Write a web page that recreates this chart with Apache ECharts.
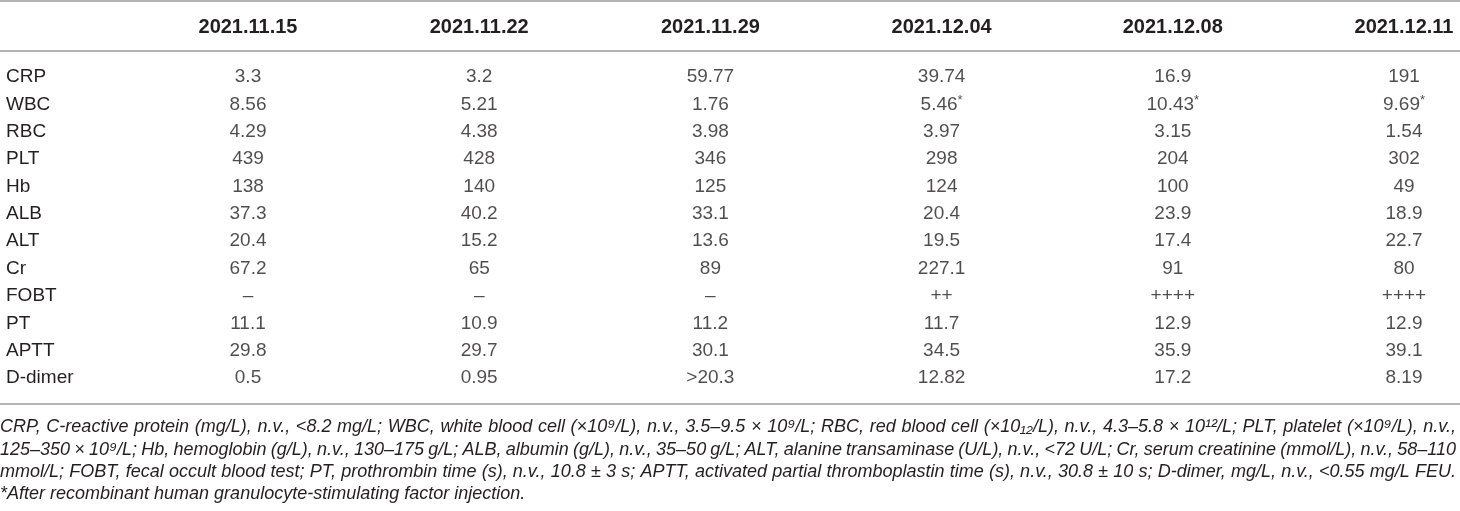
<!DOCTYPE html>
<html>
<head>
<meta charset="utf-8" />
<title>Laboratory results</title>
<script src="https://cdn.jsdelivr.net/npm/echarts@6/dist/echarts.min.js"></script>
<style>
  html, body { margin: 0; padding: 0; background: #fff; }
  #main { width: 1460px; height: 511px; }
</style>
</head>
<body>
<div id="main"></div>
<script type="text/javascript">
  // column headers (dates) and row names
  var dates = ['2021.11.15', '2021.11.22', '2021.11.29', '2021.12.04', '2021.12.08', '2021.12.11'];
  var items = ['CRP', 'WBC', 'RBC', 'PLT', 'Hb', 'ALB', 'ALT', 'Cr', 'FOBT', 'PT', 'APTT', 'D-dimer'];

  // one array per date, same order as items
  var v20211115 = ['3.3', '8.56', '4.29', '439', '138', '37.3', '20.4', '67.2', '–', '11.1', '29.8', '0.5'];
  var v20211122 = ['3.2', '5.21', '4.38', '428', '140', '40.2', '15.2', '65', '–', '10.9', '29.7', '0.95'];
  var v20211129 = ['59.77', '1.76', '3.98', '346', '125', '33.1', '13.6', '89', '–', '11.2', '30.1', '>20.3'];
  var v20211204 = ['39.74', '5.46*', '3.97', '298', '124', '20.4', '19.5', '227.1', '++', '11.7', '34.5', '12.82'];
  var v20211208 = ['16.9', '10.43*', '3.15', '204', '100', '23.9', '17.4', '91', '++++', '12.9', '35.9', '17.2'];
  var v20211211 = ['191', '9.69*', '1.54', '302', '49', '18.9', '22.7', '80', '++++', '12.9', '39.1', '8.19'];
  var columns = [v20211115, v20211122, v20211129, v20211204, v20211208, v20211211];

  // footnote, one entry per printed line
  var notes = [
    'CRP, C-reactive protein (mg/L), n.v., <8.2 mg/L; WBC, white blood cell (×10⁹/L), n.v., 3.5–9.5 × 10⁹/L; RBC, red blood cell (×10₁₂/L), n.v., 4.3–5.8 × 10¹²/L; PLT, platelet (×10⁹/L), n.v.,',
    '125–350 × 10⁹/L; Hb, hemoglobin (g/L), n.v., 130–175 g/L; ALB, albumin (g/L), n.v., 35–50 g/L; ALT, alanine transaminase (U/L), n.v., <72 U/L; Cr, serum creatinine (mmol/L), n.v., 58–110',
    'mmol/L; FOBT, fecal occult blood test; PT, prothrombin time (s), n.v., 10.8 ± 3 s; APTT, activated partial thromboplastin time (s), n.v., 30.8 ± 10 s; D-dimer, mg/L, n.v., <0.55 mg/L FEU.',
    '*After recombinant human granulocyte-stimulating factor injection.'
  ];

  var textColor = '#231f20';
  var ruleColor = '#b3b3b3';
  var fontFamily = '"Liberation Sans", Arial, sans-serif';

  var myChart = echarts.init(document.getElementById('main'));

  // justified footnote lines: every word is its own text, spread to the full width
  var noteSize = 18;
  var noteWidth = 1456;
  var ctx = document.createElement('canvas').getContext('2d');
  ctx.font = 'italic ' + noteSize + 'px ' + fontFamily;
  var noteY = [427, 450, 472, 494];
  var graphics = [];
  notes.forEach(function (line, n) {
    var words = line.split(' ');
    var widths = words.map(function (w) { return ctx.measureText(w).width; });
    var total = widths.reduce(function (a, b) { return a + b; }, 0);
    var justify = n < notes.length - 1;
    var gap = justify ? (noteWidth - total) / (words.length - 1) : ctx.measureText(' ').width;
    var x = 0;
    words.forEach(function (w, k) {
      graphics.push({
        type: 'text', x: x, y: noteY[n], silent: true,
        style: {
          text: w, fill: textColor, fontStyle: 'italic', fontSize: noteSize,
          fontFamily: fontFamily, verticalAlign: 'middle', align: 'left'
        }
      });
      x += widths[k] + gap;
    });
  });

  // table rules
  [1, 51, 404].forEach(function (y) {
    graphics.push({
      type: 'line', silent: true,
      shape: { x1: 0, y1: y, x2: 1460, y2: y },
      style: { stroke: ruleColor, lineWidth: 2 }
    });
  });

  myChart.setOption({
    animation: false,
    grid: { left: 248, right: 56, top: 77, bottom: 133, outerBoundsMode: 'none' },
    xAxis: {
      type: 'category', position: 'top', data: dates, boundaryGap: false,
      axisLine: { show: false }, axisTick: { show: false }, splitLine: { show: false },
      axisLabel: {
        interval: 0, margin: 50, verticalAlign: 'middle',
        color: textColor, fontWeight: 'bold', fontSize: 20, fontFamily: fontFamily
      }
    },
    yAxis: {
      type: 'category', data: items, inverse: true, boundaryGap: false,
      axisLine: { show: false }, axisTick: { show: false }, splitLine: { show: false },
      axisLabel: {
        interval: 0, margin: 242, align: 'left',
        color: textColor, fontSize: 19, fontFamily: fontFamily
      }
    },
    series: columns.map(function (col, i) {
      return {
        type: 'scatter', name: dates[i], symbolSize: 1,
        itemStyle: { color: 'rgba(0,0,0,0)' },
        data: col.map(function (txt, j) { return [dates[i], items[j], txt]; }),
        label: {
          show: true, position: 'inside', color: textColor,
          fontSize: 19, fontFamily: fontFamily,
          formatter: function (p) {
            var t = p.value[2];
            return t.charAt(t.length - 1) === '*' ? t.slice(0, -1) + '{s|*}' : t;
          },
          rich: {
            s: { fontSize: 13, color: textColor, fontFamily: fontFamily, padding: [0, 0, 7, 0] }
          }
        },
        emphasis: { disabled: true }
      };
    }),
    graphic: graphics
  });
</script>
</body>
</html>
